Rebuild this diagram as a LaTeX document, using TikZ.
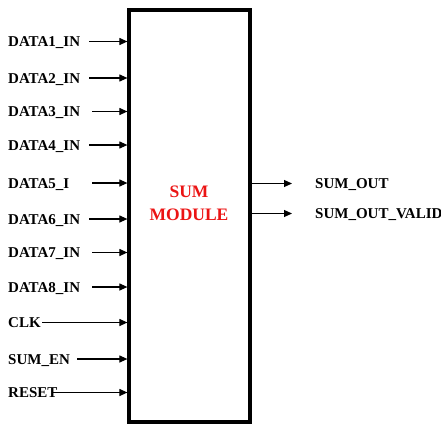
\documentclass[tikz,border=0pt]{standalone}
\usepackage{fontspec}
\setmainfont{Liberation Serif}
\usetikzlibrary{arrows.meta}
\definecolor{modred}{RGB}{235,20,20}
\tikzset{
  pin/.style={anchor=west, inner sep=0pt, text height=10.5pt, text depth=0pt,
              font=\fontsize{15}{18}\selectfont\bfseries},
  sig/.style={line width=1.1pt, -{Triangle[length=8pt,width=7pt]}},
  modbox/.style={draw, line width=3.2pt, inner sep=0pt},
  modlabel/.style={text=modred, align=center,
                   font=\fontsize{17.5}{23.5}\selectfont\bfseries}
}
\begin{document}
\begin{tikzpicture}[x=1pt,y=-1pt]
\useasboundingbox (0,0) rectangle (441,426);
% the module
\node[modbox, minimum width=121pt, minimum height=412pt] (box) at (189.5,216) {};
\node[modlabel] (title) at (189,203.5) {SUM\\MODULE};
% input pins: name / label / y position / x where the wire starts
\foreach \n/\lab/\y/\sx in {
    d1/DATA1\_IN/41.5/89, d2/DATA2\_IN/78/89, d3/DATA3\_IN/111.5/92,
    d4/DATA4\_IN/145/89, d5/DATA5\_I/183/92, d6/DATA6\_IN/219/89,
    d7/DATA7\_IN/252.5/92, d8/DATA8\_IN/287/92, clk/CLK/322.5/42,
    en/SUM\_EN/359/77, rst/RESET/392.5/53}{
  \node[pin] (\n) at (8,\y) {\lab};
  \coordinate (\n s) at (\sx,\y);
  \draw[sig] (\n s) -- (box.west |- \n s);
}
% outputs
\node[pin] (so) at (315,183.5) {SUM\_OUT};
\node[pin] (sv) at (315,213.5) {SUM\_OUT\_VALID};
\coordinate (soe) at (292,183.5);
\coordinate (sve) at (292,213.5);
\draw[sig] (box.east |- soe) -- (soe);
\draw[sig] (box.east |- sve) -- (sve);
\end{tikzpicture}
\end{document}
